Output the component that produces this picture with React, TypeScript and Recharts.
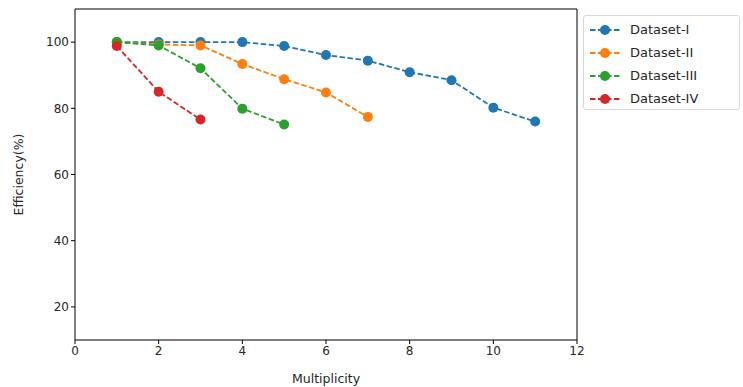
import { Label, Line, LineChart, ReferenceLine, XAxis, YAxis } from "recharts";

const multiplicity = [1, 2, 3, 4, 5, 6, 7, 8, 9, 10, 11];
const datasetI = [100, 100, 100, 100, 98.8, 96.1, 94.4, 90.9, 88.5, 80.2, 76];
const datasetII = [100, 99.3, 99, 93.4, 88.8, 84.8, 77.4];
const datasetIII = [100, 99, 92.1, 79.9, 75.1];
const datasetIV = [98.8, 85, 76.6];

const seriesNames = ["Dataset-I", "Dataset-II", "Dataset-III", "Dataset-IV"];
const seriesColors = ["#1f77b4", "#ff7f0e", "#2ca02c", "#d62728"];
const seriesValues = [datasetI, datasetII, datasetIII, datasetIV];

const xTicks = [0, 2, 4, 6, 8, 10, 12];
const yTicks = [20, 40, 60, 80, 100];
const xDomain = [0, 12];
const yDomain = [10, 110];

const series = seriesNames.map((name, i) => ({
  name,
  color: seriesColors[i],
  data: seriesValues[i].map((v, j) => ({ x: multiplicity[j], y: v })),
}));

const font = "'DejaVu Sans', sans-serif";
const tickStyle = { fill: "#262626", fontSize: 12, fontFamily: font };

function LegendBox() {
  return (
    <div
      style={{
        position: "absolute",
        left: 583,
        top: 15,
        width: 157,
        height: 95,
        border: "1px solid #d6d6d6",
        borderRadius: 3,
        background: "#fff",
        boxSizing: "border-box",
        paddingTop: 2,
        fontFamily: font,
      }}
    >
      {series.map((s) => (
        <div
          key={s.name}
          style={{ display: "flex", alignItems: "center", height: 23, paddingLeft: 6 }}
        >
          <svg width={30} height={12}>
            <line x1={0} y1={6} x2={30} y2={6} stroke={s.color} strokeWidth={1.8} strokeDasharray="5.5 2.5" />
            <circle cx={15} cy={6} r={5} fill={s.color} />
          </svg>
          <span style={{ marginLeft: 10, fontSize: 13, color: "#262626" }}>{s.name}</span>
        </div>
      ))}
    </div>
  );
}

export default function App() {
  return (
    <div style={{ position: "absolute", left: 0, top: 0, width: 743, height: 387, background: "#fff" }}>
      <LineChart width={743} height={387} margin={{ top: 9, right: 166, bottom: 0, left: 0 }}>
        <XAxis
          xAxisId="b"
          type="number"
          dataKey="x"
          domain={xDomain}
          ticks={xTicks}
          height={47}
          stroke="#000"
          tick={tickStyle}
          tickSize={4}
          allowDataOverflow
        >
          <Label value="Multiplicity" position="insideBottom" offset={4} style={{ fill: "#262626", fontSize: 12.5, fontFamily: font }} />
        </XAxis>
        <YAxis
          yAxisId="l"
          type="number"
          dataKey="y"
          domain={yDomain}
          ticks={yTicks}
          width={75}
          stroke="#000"
          tick={tickStyle}
          tickSize={4}
          allowDataOverflow
        >
          <Label
            value="Efficiency(%)"
            angle={-90}
            position="insideLeft"
            offset={19}
            style={{ textAnchor: "middle", fill: "#262626", fontSize: 12.5, fontFamily: font }}
          />
        </YAxis>
        <ReferenceLine xAxisId="b" yAxisId="l" y={yDomain[1]} stroke="#000" strokeWidth={1} />
        <ReferenceLine xAxisId="b" yAxisId="l" x={xDomain[1]} stroke="#000" strokeWidth={1} />
        {series.map((s) => (
          <Line
            key={s.name}
            xAxisId="b"
            yAxisId="l"
            data={s.data}
            dataKey="y"
            name={s.name}
            stroke={s.color}
            strokeWidth={1.8}
            strokeDasharray="5.5 2.5"
            dot={{ r: 5, fill: s.color, stroke: s.color, strokeWidth: 0, strokeDasharray: "" }}
            activeDot={false}
            isAnimationActive={false}
          />
        ))}
      </LineChart>
      <LegendBox />
    </div>
  );
}
